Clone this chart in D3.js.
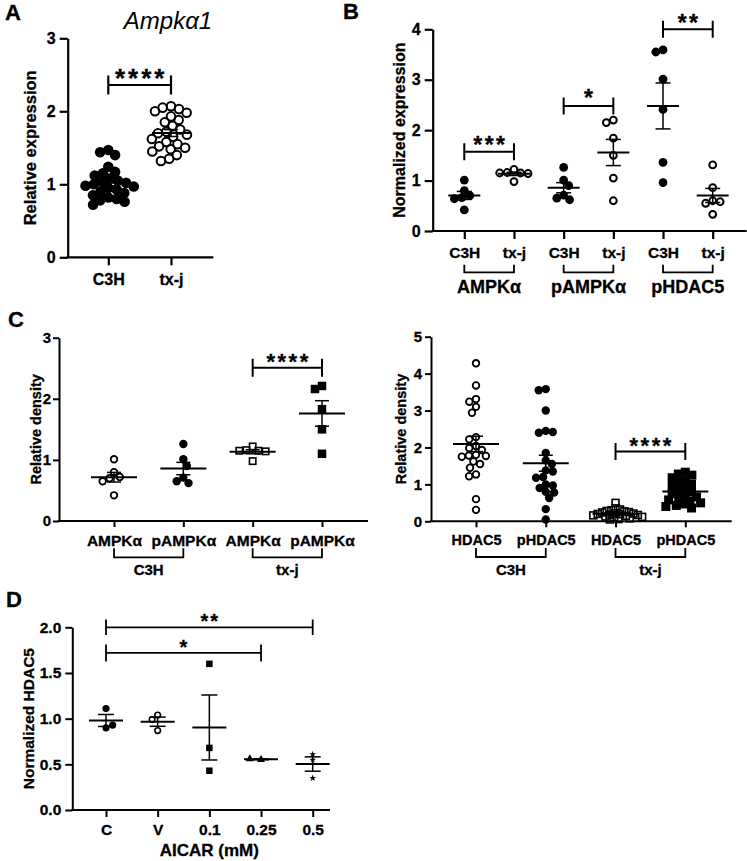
<!DOCTYPE html>
<html><head><meta charset="utf-8">
<script src="https://cdn.jsdelivr.net/npm/d3@7"></script>
<style>
body{margin:0;background:#fff}
svg{display:block}
text{font-family:"Liberation Sans",Arial,sans-serif;font-weight:bold;fill:#000;stroke:#000;stroke-width:0.3px}
</style>
</head><body>
<svg id="c" width="747" height="861"></svg>
<script>
// ---------------- DATA ----------------
// Panel A
const aCategories = ["C3H", "tx-j"];
const aC3H = [1.47,1.44,1.40,1.24,1.17,1.15,1.12,1.08,1.05,1.03,1.02,1.00,0.98,0.97,0.95,0.93,0.90,0.88,0.85,0.82,0.80,0.78,0.76,0.72];
const aTxj = [2.07,2.05,2.03,2.00,1.98,1.93,1.88,1.85,1.80,1.75,1.72,1.70,1.68,1.65,1.62,1.58,1.55,1.52,1.50,1.48,1.45,1.40,1.35,1.32];
const aYTicks = [0,1,2,3];

// Panel B
const bCategories = ["C3H","tx-j","C3H","tx-j","C3H","tx-j"];
const bGroups = ["AMPKα","pAMPKα","pHDAC5"];
const bAmpkC3H  = [1.01,0.80,0.70,0.66,0.64,0.42];
const bAmpkTxj  = [1.22,1.16,1.15,1.14,1.15,0.98];
const bPampkC3H = [1.26,1.01,0.90,0.71,0.62,0.65];
const bPampkTxj = [2.20,2.15,1.84,1.50,1.05,0.60];
const bPhdacC3H = [3.59,3.55,3.01,2.41,1.36,0.96];
const bPhdacTxj = [1.31,0.86,0.60,0.55,0.58,0.33];
const bYTicks = [0,1,2,3,4];

// Panel C (left)
const cLeftCategories = ["AMPKα","pAMPKα","AMPKα","pAMPKα"];
const cLeftGroups = ["C3H","tx-j"];
const cAmpkC3H  = [1.01,0.80,0.72,0.70,0.65,0.42];
const cPampkC3H = [1.26,1.01,0.90,0.71,0.62,0.65];
const cAmpkTxj  = [1.22,1.16,1.15,1.14,1.15,0.98];
const cPampkTxj = [2.21,2.16,1.83,1.50,1.10];
const cLeftYTicks = [0,1,2,3];

// Panel C (right)
const cRightCategories = ["HDAC5","pHDAC5","HDAC5","pHDAC5"];
const cRightGroups = ["C3H","tx-j"];
const cHdacC3H  = [4.28,3.68,3.31,3.24,3.10,2.94,2.28,2.22,2.04,1.98,1.93,1.80,1.78,1.77,1.75,1.62,1.55,1.45,1.27,1.22,0.60,0.31];
const cPhdacC3H = [3.58,3.55,3.00,2.45,2.42,2.40,1.85,1.65,1.55,1.38,1.35,1.20,1.18,1.00,0.97,0.90,0.80,0.78,0.63,0.33,0.05];
const cHdacTxj  = [0.50,0.35,0.32,0.30,0.28,0.27,0.25,0.24,0.22,0.21,0.20,0.19,0.18,0.17,0.16,0.15,0.13,0.12,0.10,0.08,0.06,0.05];
const cPhdacTxj = [1.33,1.28,1.25,1.18,1.10,1.05,1.00,0.95,0.90,0.85,0.80,0.75,0.70,0.66,0.62,0.58,0.55,0.50,0.47,0.43,0.40,0.36];
const cRightYTicks = [0,1,2,3,4,5];

// Panel D
const dCategories = ["C","V","0.1","0.25","0.5"];
const dC    = [1.11,0.90,0.93];
const dV    = [1.04,0.99,0.87];
const d01   = [1.60,0.68,0.43];
const d025  = [0.55,0.56];
const d05   = [0.61,0.55,0.35];
const dYTicks = [0,0.5,1.0,1.5,2.0];

// ---------------- DRAWING ----------------
const svg = d3.select("#c");

function panel(o){
  const g = svg.append("g");
  const y = d3.scaleLinear().domain(o.yDomain).range([o.yBottom, o.yTop]);
  const x = d3.scalePoint().domain(d3.range(o.labels.length)).range([o.xFirst, o.xLast]);
  const ya = g.append("g").attr("transform",`translate(${o.axisX},0)`)
    .call(d3.axisLeft(y).tickValues(o.yTicks).tickFormat(o.yFmt).tickSize(o.tick).tickSizeOuter(0).tickPadding(o.pad||4));
  ya.select(".domain").attr("stroke-width",o.sw);
  ya.selectAll(".tick line").attr("stroke-width",o.sw);
  ya.selectAll("text").style("font-size",o.yFont+"px").attr("font-family",null);
  const xa = g.append("g").attr("transform",`translate(0,${o.yBottom})`)
    .call(d3.axisBottom(x).tickFormat(i=>o.labels[i]).tickSize(o.tick).tickSizeOuter(0));
  xa.select(".domain").remove();
  xa.selectAll(".tick line").attr("stroke-width",o.sw);
  xa.selectAll("text").style("font-size",o.xFont+"px").attr("y",o.xOff).attr("dy",null).attr("font-family",null);
  g.append("line").attr("x1",o.axisX-o.sw/2).attr("x2",o.xEnd).attr("y1",o.yBottom).attr("y2",o.yBottom)
    .attr("stroke","#000").attr("stroke-width",o.sw);
  g.append("text").attr("transform",`translate(${o.titleX},${(o.yTop+o.yBottom)/2+o.titleDy}) rotate(-90)`)
    .attr("text-anchor","middle").attr("dominant-baseline","central").style("font-size",o.titleFont+"px").text(o.title);
  return {g,x,y,o};
}

function swarm(ys, D){
  const placed=[], out=[];
  ys.forEach((py,i)=>{
    const near = placed.filter(q=>Math.abs(q.y-py)<D);
    const c=[0];
    near.forEach(q=>{const h=Math.sqrt(D*D-(q.y-py)**2); c.push(q.x+h, q.x-h);});
    const s = i%2 ? 1 : -1;
    c.sort((a,b)=>(Math.abs(a)-Math.abs(b)) || s*(a-b));
    let dx=0;
    for(const v of c){ if(near.every(q=>(q.x-v)**2+(q.y-py)**2 >= D*D-1e-6)){dx=v;break;} }
    placed.push({x:dx,y:py}); out.push(dx);
  });
  return out;
}

function scatter(P, idx, vals, m){
  const cx = P.x(idx);
  const ys = vals.map(v=>P.y(v));
  const dxs = swarm(ys, m.size*m.f);
  const g = P.g.append("g");
  ys.forEach((py,i)=>{
    const X = cx+dxs[i];
    if(m.shape==="circle"){
      g.append("circle").attr("cx",X).attr("cy",py).attr("r", m.filled? m.size/2 : m.size/2 - m.sw/2)
        .attr("fill", m.filled?"#000":"none").attr("stroke", m.filled?"none":"#000").attr("stroke-width", m.sw);
    } else if(m.shape==="square"){
      const s = m.filled? m.size : m.size - m.sw;
      g.append("rect").attr("x",X-s/2).attr("y",py-s/2).attr("width",s).attr("height",s)
        .attr("fill", m.filled?"#000":"none").attr("stroke", m.filled?"none":"#000").attr("stroke-width", m.sw);
    } else {
      const t = m.shape==="triangle"? d3.symbolTriangle : d3.symbolStar;
      g.append("path").attr("transform",`translate(${X},${py})`).attr("d", d3.symbol(t, m.area)()).attr("fill","#000");
    }
  });
  const mean = d3.mean(vals);
  const sem = d3.deviation(vals)/Math.sqrt(vals.length);
  const o = P.o;
  const ln = (x1,x2,y1,y2,w)=>g.append("line").attr("x1",x1).attr("x2",x2).attr("y1",y1).attr("y2",y2).attr("stroke","#000").attr("stroke-width",w);
  ln(cx-o.meanHalf, cx+o.meanHalf, P.y(mean), P.y(mean), o.meanW);
  ln(cx, cx, P.y(mean+sem), P.y(mean-sem), o.errW);
  ln(cx-o.capHalf, cx+o.capHalf, P.y(mean+sem), P.y(mean+sem), o.errW);
  ln(cx-o.capHalf, cx+o.capHalf, P.y(mean-sem), P.y(mean-sem), o.errW);
}

function sig(P, i0, i1, val, leg, stars, fs, ls, sw, gap){
  const yy = P.y(val), x0=P.x(i0), x1=P.x(i1);
  P.g.append("path").attr("d",`M${x0},${yy-leg}V${yy+leg}M${x0},${yy}H${x1}M${x1},${yy-leg}V${yy+leg}`)
    .attr("fill","none").attr("stroke","#000").attr("stroke-width",sw);
  const cy = yy - gap;
  P.g.append("text").attr("x",(x0+x1)/2 + ls/2).attr("y", cy + 0.575*fs).attr("text-anchor","middle")
    .style("font-size",fs+"px").style("letter-spacing",ls+"px").text(stars);
}

function group(P, i0, i1, yy, up, label, base, fs, sw){
  const x0=P.x(i0), x1=P.x(i1);
  P.g.append("path").attr("d",`M${x0},${yy-up}V${yy}H${x1}V${yy-up}`).attr("fill","none").attr("stroke","#000").attr("stroke-width",sw);
  P.g.append("text").attr("x",(x0+x1)/2).attr("y",base).attr("text-anchor","middle").style("font-size",fs+"px").text(label);
}

function letter(t,x,y){ svg.append("text").attr("x",x).attr("y",y).style("font-size","22px").text(t); }

// ---- Panel A
const A = panel({axisX:67.7,xEnd:213.3,yTop:38.3,yBottom:257.3,yDomain:[0,3],yTicks:aYTicks,yFmt:d3.format("d"),
  xFirst:108.3,xLast:171,labels:aCategories,tick:8,sw:2.2,yFont:16,xFont:16,xOff:28,
  title:"Relative expression",titleX:30,titleDy:0,titleFont:16.5,meanHalf:19,capHalf:7,meanW:2,errW:1.5});
scatter(A,0,aC3H,{shape:"circle",filled:true,size:10.6,f:0.8});
scatter(A,1,aTxj,{shape:"circle",filled:false,size:10.6,f:0.8,sw:2});
sig(A,0,1,2.36,9.5,"****",26,3,2.2,13);
letter("A",5,20);
svg.append("text").attr("x",168).attr("y",29).attr("text-anchor","middle")
  .style("font-size","24px").style("font-weight","normal").style("stroke-width","0").style("font-style","italic").text("Ampkα1");

// ---- Panel B
const B = panel({axisX:432.7,xEnd:746.7,yTop:29.3,yBottom:231,yDomain:[0,4],yTicks:bYTicks,yFmt:d3.format("d"),
  xFirst:464.3,xLast:712.7,labels:bCategories,tick:8,sw:2.2,yFont:16,xFont:15.5,xOff:27,
  title:"Normalized expression",titleX:399,titleDy:0,titleFont:16,meanHalf:16,capHalf:7.5,meanW:2,errW:1.5});
const bOpen = {shape:"circle",filled:false,size:8.8,f:0.85,sw:2}, bFill={shape:"circle",filled:true,size:8.8,f:0.85};
scatter(B,0,bAmpkC3H,bFill); scatter(B,1,bAmpkTxj,bOpen);
scatter(B,2,bPampkC3H,bFill); scatter(B,3,bPampkTxj,bOpen);
scatter(B,4,bPhdacC3H,bFill); scatter(B,5,bPhdacTxj,bOpen);
sig(B,0,1,1.57,8.5,"***",23,2.5,2,12);
sig(B,2,3,2.48,8.5,"*",23,0,2,13);
sig(B,4,5,4.0,8.5,"**",23,2.5,2,12);
bGroups.forEach((gname,k)=>group(B,2*k,2*k+1,272.3,7.5,gname,293,18,1.8));
letter("B",343,19);

// ---- Panel C left
const CL = panel({axisX:59,xEnd:368,yTop:337.7,yBottom:521,yDomain:[0,3],yTicks:cLeftYTicks,yFmt:d3.format("d"),
  xFirst:114,xLast:322,labels:cLeftCategories,tick:6,pad:2,sw:2,yFont:15,xFont:15.5,xOff:25,
  title:"Relative density",titleX:36,titleDy:0,titleFont:14.5,meanHalf:23,capHalf:7,meanW:2,errW:1.5});
scatter(CL,0,cAmpkC3H,{shape:"circle",filled:false,size:8.4,f:0.9,sw:1.8});
scatter(CL,1,cPampkC3H,{shape:"circle",filled:true,size:8.4,f:0.9});
scatter(CL,2,cAmpkTxj,{shape:"square",filled:false,size:8,f:0.9,sw:1.6});
scatter(CL,3,cPampkTxj,{shape:"square",filled:true,size:8.5,f:0.9});
sig(CL,2,3,2.51,9,"****",22,2.5,2,11);
cLeftGroups.forEach((gname,k)=>group(CL,2*k,2*k+1,557.3,9,gname,575,15,1.8));
letter("C",8,327);

// ---- Panel C right
const CR = panel({axisX:431,xEnd:731.7,yTop:336.7,yBottom:521.3,yDomain:[0,5],yTicks:cRightYTicks,yFmt:d3.format("d"),
  xFirst:476,xLast:685.3,labels:cRightCategories,tick:6,pad:3,sw:2,yFont:15,xFont:14.5,xOff:24,
  title:"Relative density",titleX:401,titleDy:0,titleFont:14.5,meanHalf:23,capHalf:7,meanW:2,errW:1.5});
scatter(CR,0,cHdacC3H,{shape:"circle",filled:false,size:8.4,f:0.85,sw:1.8});
scatter(CR,1,cPhdacC3H,{shape:"circle",filled:true,size:8.4,f:0.85});
scatter(CR,2,cHdacTxj,{shape:"square",filled:false,size:8.5,f:0.55,sw:1.6});
scatter(CR,3,cPhdacTxj,{shape:"square",filled:true,size:9,f:0.8});
sig(CR,2,3,1.89,8.5,"****",22,2.5,2,11);
cRightGroups.forEach((gname,k)=>group(CR,2*k,2*k+1,557,9,gname,575,15,1.8));

// ---- Panel D
const D = panel({axisX:72.3,xEnd:330,yTop:627.3,yBottom:810,yDomain:[0,2],yTicks:dYTicks,yFmt:d3.format(".1f"),
  xFirst:106,xLast:312.7,labels:dCategories,tick:7,sw:2,yFont:15.5,xFont:15.5,xOff:25,
  title:"Normalized HDAC5",titleX:28,titleDy:0,titleFont:15.5,meanHalf:17,capHalf:8,meanW:2,errW:1.5});
scatter(D,0,dC,{shape:"circle",filled:true,size:7.2,f:1});
scatter(D,1,dV,{shape:"circle",filled:false,size:7.2,f:1,sw:1.6});
scatter(D,2,d01,{shape:"square",filled:true,size:6.5,f:1});
scatter(D,3,d025,{shape:"triangle",size:7,area:28,f:1.6});
scatter(D,4,d05,{shape:"star",size:5,area:14,f:1});
sig(D,0,4,2.0,7.8,"**",20,2,1.8,11);
sig(D,0,3,1.72,8.5,"*",20,0,1.8,10);
svg.append("text").attr("x",D.x(2)).attr("y",856).attr("text-anchor","middle").style("font-size","17px").text("AICAR (mM)");
letter("D",6,607);
</script>
</body></html>
